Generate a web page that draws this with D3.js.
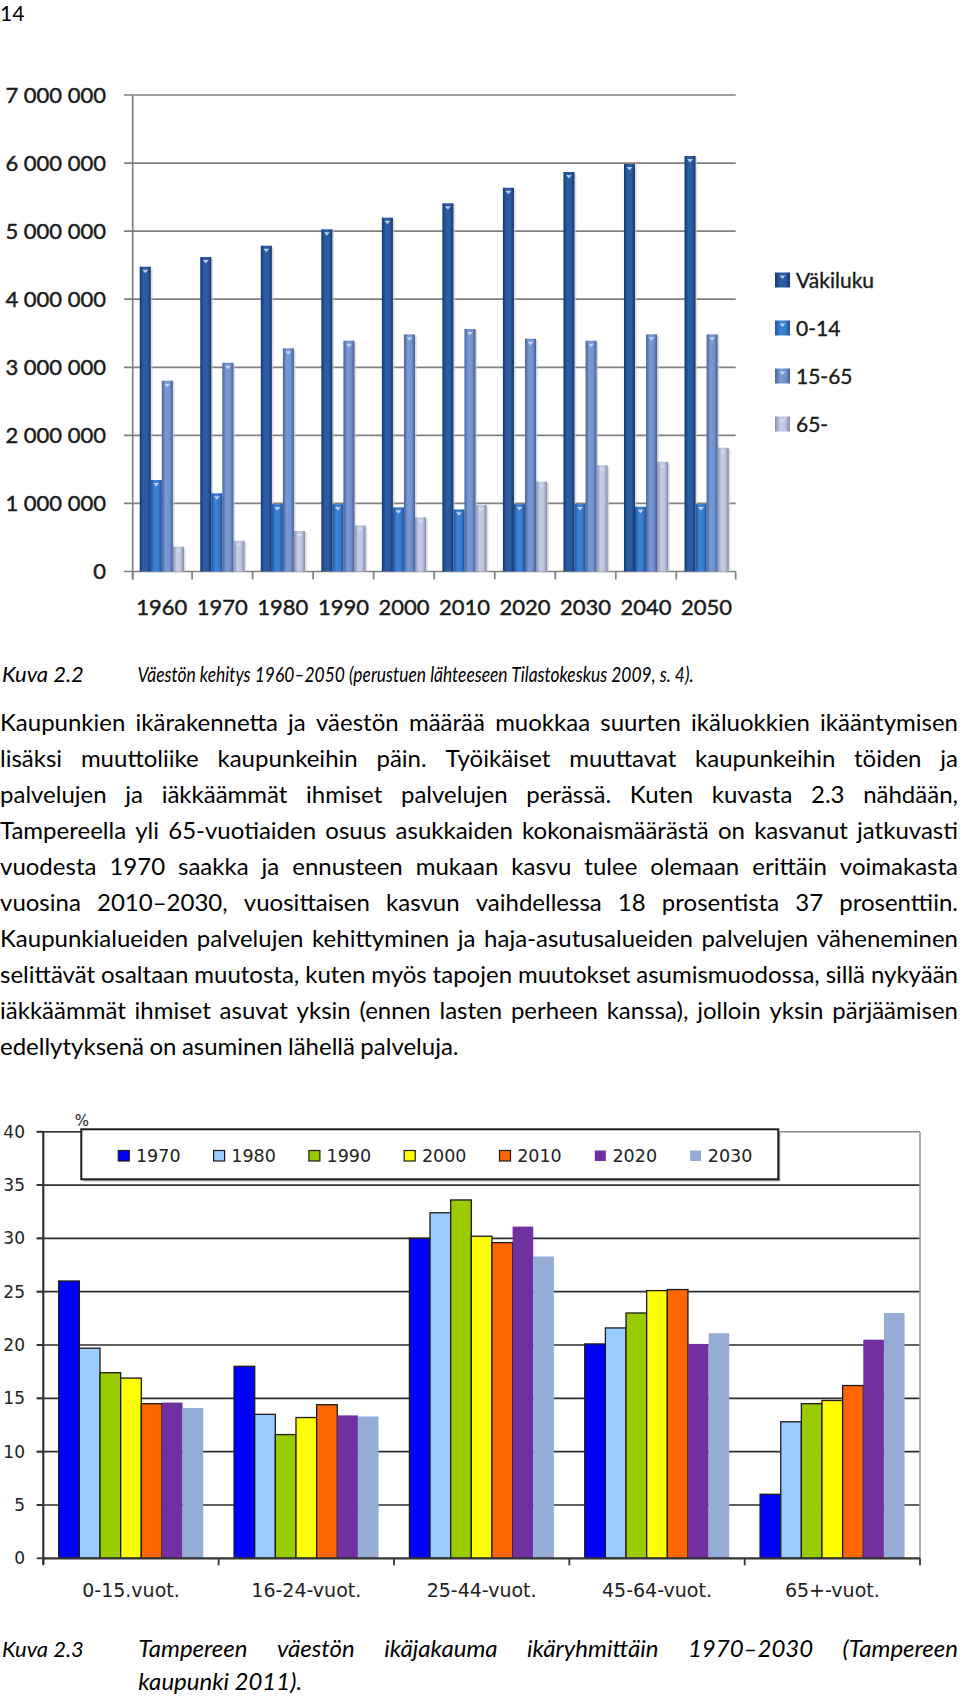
<!DOCTYPE html>
<html>
<head>
<meta charset="utf-8">
<script src="https://cdn.jsdelivr.net/npm/d3@7"></script>
<style>
  html, body { margin: 0; padding: 0; background: #fff; }
  svg { display: block; }
</style>
</head>
<body>
<script>
// ---------------- DATA ----------------
// Chart 1: Väestön kehitys 1960–2050
const years1 = ["1960","1970","1980","1990","2000","2010","2020","2030","2040","2050"];
const series1 = ["Väkiluku","0-14","15-65","65-"];
const vakiluku = [4478000,4620000,4786000,5027000,5198000,5409000,5638000,5869000,5987000,6104000];
const age0_14  = [1344000,1149000,990000,990000,943000,913000,990000,990000,952000,990000];
const age15_65 = [2803000,3067000,3279000,3391000,3484000,3562000,3420000,3390000,3484000,3484000];
const age65    = [364000,452000,595000,678000,796000,977000,1319000,1560000,1613000,1819000];
const yTicks1  = [0,1000000,2000000,3000000,4000000,5000000,6000000,7000000];

// Chart 2: Tampereen väestön ikäjakauma ikäryhmittäin 1970–2030 (%)
const ageGroups = ["0-15.vuot.","16-24-vuot.","25-44-vuot.","45-64-vuot.","65+-vuot."];
const years2 = ["1970","1980","1990","2000","2010","2020","2030"];
const share1970 = [26.0, 18.0, 30.0, 20.1, 6.0];
const share1980 = [19.7, 13.5, 32.4, 21.6, 12.8];
const share1990 = [17.4, 11.6, 33.6, 23.0, 14.5];
const share2000 = [16.9, 13.2, 30.2, 25.1, 14.8];
const share2010 = [14.5, 14.4, 29.6, 25.2, 16.2];
const share2020 = [14.6, 13.4, 31.1, 20.1, 20.5];
const share2030 = [14.1, 13.3, 28.3, 21.1, 23.0];
const yTicks2 = [0,5,10,15,20,25,30,35,40];

// Texts
const pageNumber = "14";
const caption22 = ["Kuva 2.2", "Väestön kehitys 1960–2050 (perustuen lähteeseen Tilastokeskus 2009, s. 4)."];
const paragraph = [
  "Kaupunkien ikärakennetta ja väestön määrää muokkaa suurten ikäluokkien ikääntymisen",
  "lisäksi muuttoliike kaupunkeihin päin. Työikäiset muuttavat kaupunkeihin töiden ja",
  "palvelujen ja iäkkäämmät ihmiset palvelujen perässä. Kuten kuvasta 2.3 nähdään,",
  "Tampereella yli 65-vuotiaiden osuus asukkaiden kokonaismäärästä on kasvanut jatkuvasti",
  "vuodesta 1970 saakka ja ennusteen mukaan kasvu tulee olemaan erittäin voimakasta",
  "vuosina 2010–2030, vuosittaisen kasvun vaihdellessa 18 prosentista 37 prosenttiin.",
  "Kaupunkialueiden palvelujen kehittyminen ja haja-asutusalueiden palvelujen väheneminen",
  "selittävät osaltaan muutosta, kuten myös tapojen muutokset asumismuodossa, sillä nykyään",
  "iäkkäämmät ihmiset asuvat yksin (ennen lasten perheen kanssa), jolloin yksin pärjäämisen",
  "edellytyksenä on asuminen lähellä palveluja."
];
const caption23 = ["Kuva 2.3", "Tampereen väestön ikäjakauma ikäryhmittäin 1970–2030 (Tampereen", "kaupunki 2011)."];

// ---------------- SETUP ----------------
const W = 960, H = 1697;
const svg = d3.select("body").append("svg").attr("width", W).attr("height", H)
  .attr("viewBox", `0 0 ${W} ${H}`);
svg.append("rect").attr("width", W).attr("height", H).attr("fill", "#fff");
const defs = svg.append("defs");

const bodyFont = "Lato, 'Open Sans', sans-serif";

// helper: justified line of text (word spacing distributed)
function justified(g, text, x0, x1, y, size, italic, justify) {
  const words = text.split(" ");
  const tmp = g.append("text").style("font-family", bodyFont).style("font-size", size + "px")
    .style("font-style", italic ? "italic" : "normal");
  const widths = words.map(w => { tmp.text(w); return tmp.node().getComputedTextLength(); });
  tmp.remove();
  const total = d3.sum(widths);
  let gap = size * 0.226;
  if (justify && words.length > 1) gap = Math.max(2, (x1 - x0 - total) / (words.length - 1));
  const t = g.append("text").attr("y", y).attr("fill", "#000")
    .style("font-family", bodyFont).style("font-size", size + "px")
    .style("font-style", italic ? "italic" : "normal");
  let x = x0;
  words.forEach((w, i) => {
    t.append("tspan").attr("x", x).text(i < words.length - 1 ? w + " " : w);
    x += widths[i] + gap;
  });
  return t;
}

// ---------------- PAGE TEXT ----------------
const textG = svg.append("g");
textG.append("text").attr("x", 0).attr("y", 21).text(pageNumber)
  .style("font-family", bodyFont).style("font-size", "21px").attr("fill", "#000");

textG.append("text").attr("x", 2).attr("y", 681.5).text(caption22[0])
  .style("font-family", bodyFont).style("font-size", "22px").style("font-style", "italic");
textG.append("text").attr("x", 137.5).attr("y", 681.5).text(caption22[1])
  .attr("textLength", 556).attr("lengthAdjust", "spacingAndGlyphs")
  .style("font-family", bodyFont).style("font-size", "21.5px").style("font-style", "italic");

paragraph.forEach((line, i) => {
  justified(textG, line, 0, 958, 730.5 + i * 36.1, 24, false, i < paragraph.length - 1);
});

textG.append("text").attr("x", 2).attr("y", 1656.5).text(caption23[0])
  .style("font-family", bodyFont).style("font-size", "22px").style("font-style", "italic");
justified(textG, caption23[1], 138.3, 958, 1656.5, 24, true, true);
justified(textG, caption23[2], 138.3, 958, 1689.5, 24, true, false);

// ---------------- CHART 1 ----------------
{
  const g = svg.append("g");
  const x0 = d3.scaleBand().domain(years1).range([132.7, 735.7]).paddingInner(0.27).paddingOuter(0.116);
  const x1 = d3.scaleBand().domain(series1).range([0, x0.bandwidth()]);
  const y = d3.scaleLinear().domain([0, 7000000]).range([571.5, 95]);
  const fmtLocale = d3.formatLocale({decimal: ",", thousands: " ", grouping: [3], currency: ["", ""]});
  const fmt = fmtLocale.format(",d");

  const grads = {
    "Väkiluku": ["#163a6e", "#2b5da5", "#2a5aa0", "#15366a"],
    "0-14":     ["#1c54a3", "#3f82d4", "#3a7bcc", "#1b4f9c"],
    "15-65":    ["#46659f", "#7b9ad3", "#7192cd", "#435f98"],
    "65-":      ["#8690b2", "#c6cde3", "#bcc4de", "#8089ab"]
  };
  series1.forEach((s, i) => {
    const lg = defs.append("linearGradient").attr("id", "g1s" + i)
      .attr("x1", "0").attr("x2", "1").attr("y1", "0").attr("y2", "0");
    const c = grads[s];
    lg.append("stop").attr("offset", "0").attr("stop-color", c[0]);
    lg.append("stop").attr("offset", "0.35").attr("stop-color", c[1]);
    lg.append("stop").attr("offset", "0.7").attr("stop-color", c[2]);
    lg.append("stop").attr("offset", "1").attr("stop-color", c[3]);
  });

  // gridlines
  g.append("g").selectAll("line").data(yTicks1).join("line")
    .attr("x1", 124).attr("x2", x0.range()[1])
    .attr("y1", d => y(d)).attr("y2", d => y(d))
    .attr("stroke", "#808080").attr("stroke-width", 1.7);
  // y axis line
  g.append("line").attr("x1", 132.7).attr("x2", 132.7).attr("y1", y(7000000)).attr("y2", y(0) + 8)
    .attr("stroke", "#808080").attr("stroke-width", 1.7);
  // x ticks
  const bounds = years1.map(d => x0(d) - x0.step() * x0.paddingInner() / 2);
  bounds[0] = x0.range()[0];
  bounds.push(x0.range()[1]);
  g.append("g").selectAll("line").data(bounds).join("line")
    .attr("x1", d => d).attr("x2", d => d).attr("y1", y(0)).attr("y2", y(0) + 8)
    .attr("stroke", "#808080").attr("stroke-width", 1.7);

  // y labels
  g.append("g").selectAll("text").data(yTicks1).join("text")
    .attr("x", 106).attr("y", d => y(d)).attr("dy", "0.36em").attr("text-anchor", "end")
    .style("font-family", bodyFont).style("font-size", "22px").attr("fill", "#1a1a1a")
    .attr("stroke", "#1a1a1a").attr("stroke-width", 0.45)
    .text(d => fmt(d));
  // x labels
  g.append("g").selectAll("text").data(years1).join("text")
    .attr("x", d => x0(d) + x0.bandwidth() / 2).attr("y", 606.7).attr("dy", "0.36em")
    .attr("text-anchor", "middle")
    .style("font-family", bodyFont).style("font-size", "22px").attr("fill", "#1a1a1a")
    .attr("stroke", "#1a1a1a").attr("stroke-width", 0.45)
    .text(d => d);

  const vals = [vakiluku, age0_14, age15_65, age65];
  const groups = g.append("g").selectAll("g").data(years1).join("g")
    .attr("transform", d => `translate(${x0(d)},0)`);
  // soft shadows
  series1.forEach((s, i) => {
    groups.append("rect")
      .attr("x", x1(s) + 1.8).attr("y", (d, j) => y(vals[i][j]) + 1.5)
      .attr("width", x1.bandwidth()).attr("height", (d, j) => y(0) - y(vals[i][j]) - 1.5)
      .attr("fill", "#c8c8c8").attr("opacity", 0.6);
  });
  series1.forEach((s, i) => {
    groups.append("rect")
      .attr("x", x1(s)).attr("y", (d, j) => y(vals[i][j]))
      .attr("width", x1.bandwidth()).attr("height", (d, j) => y(0) - y(vals[i][j]))
      .attr("fill", `url(#g1s${i})`);
    groups.append("path")
      .attr("d", (d, j) => {
        const cx = x1(s) + x1.bandwidth() / 2, t = y(vals[i][j]);
        return `M${cx - 3},${t + 3}L${cx + 3},${t + 3}L${cx},${t + 6.5}Z`;
      })
      .attr("fill", "#cfe0f7").attr("opacity", 0.85);
  });

  // legend
  const lg = g.append("g").selectAll("g").data(series1).join("g")
    .attr("transform", (d, i) => `translate(775,${280 + i * 48})`);
  lg.append("rect").attr("x", 0).attr("y", -7.5).attr("width", 15).attr("height", 15)
    .attr("fill", (d, i) => `url(#g1s${i})`);
  lg.append("path").attr("d", "M4.5,-4.5L10.5,-4.5L7.5,-1Z").attr("fill", "#cfe0f7").attr("opacity", 0.85);
  lg.append("text").attr("x", 21).attr("y", 0).attr("dy", "0.36em")
    .style("font-family", bodyFont).style("font-size", "21px").attr("fill", "#1a1a1a")
    .attr("stroke", "#1a1a1a").attr("stroke-width", 0.35)
    .text(d => d);
}

// ---------------- CHART 2 ----------------
{
  const g = svg.append("g");
  const x0 = d3.scaleBand().domain(ageGroups).range([43.3, 920]).paddingInner(0.176).paddingOuter(0.088);
  const x1 = d3.scaleBand().domain(years2).range([0, x0.bandwidth()]);
  const y = d3.scaleLinear().domain([0, 40]).range([1558.3, 1131.7]);
  const colors = ["#0000FF", "#99CCFF", "#99CC00", "#FFFF00", "#FF6600", "#7030A0", "#95ACD6"];
  const outlined = [true, true, true, true, true, false, false];
  const vals = [share1970, share1980, share1990, share2000, share2010, share2020, share2030];
  const sfont = "'DejaVu Sans', Verdana, sans-serif";

  // gridlines
  g.append("g").selectAll("line").data(yTicks2.filter(d => d > 0 && d < 40)).join("line")
    .attr("x1", 36.7).attr("x2", 920).attr("y1", d => y(d)).attr("y2", d => y(d))
    .attr("stroke", "#2e2e2e").attr("stroke-width", 1.7);
  // top gridline and right frame
  g.append("line").attr("x1", 36.7).attr("x2", 920).attr("y1", y(40)).attr("y2", y(40))
    .attr("stroke", "#8a8a8a").attr("stroke-width", 1.6);
  g.append("line").attr("x1", 36.7).attr("x2", 82).attr("y1", y(40)).attr("y2", y(40))
    .attr("stroke", "#333").attr("stroke-width", 1.6);
  g.append("line").attr("x1", 920).attr("x2", 920).attr("y1", y(40)).attr("y2", y(0))
    .attr("stroke", "#9a9a9a").attr("stroke-width", 1.6);

  // bars
  const groups = g.append("g").selectAll("g").data(ageGroups).join("g")
    .attr("transform", d => `translate(${x0(d)},0)`);
  years2.forEach((yr, i) => {
    groups.append("rect")
      .attr("x", x1(yr)).attr("y", (d, j) => y(vals[i][j]))
      .attr("width", x1.bandwidth()).attr("height", (d, j) => y(0) - y(vals[i][j]))
      .attr("fill", colors[i])
      .attr("stroke", outlined[i] ? "#1a1a1a" : "none").attr("stroke-width", 1.3);
  });

  // axes
  g.append("line").attr("x1", 43.3).attr("x2", 43.3).attr("y1", y(40)).attr("y2", y(0) + 6)
    .attr("stroke", "#333").attr("stroke-width", 2.2);
  g.append("line").attr("x1", 43.3).attr("x2", 920).attr("y1", y(0)).attr("y2", y(0))
    .attr("stroke", "#333").attr("stroke-width", 2.2);
  g.append("g").selectAll("line").data(yTicks2).join("line")
    .attr("x1", 36.7).attr("x2", 43.3).attr("y1", d => y(d)).attr("y2", d => y(d))
    .attr("stroke", "#333").attr("stroke-width", 1.8);
  const bounds = ageGroups.map(d => x0(d) - x0.step() * x0.paddingInner() / 2);
  bounds[0] = x0.range()[0];
  bounds.push(x0.range()[1]);
  g.append("g").selectAll("line").data(bounds).join("line")
    .attr("x1", d => d).attr("x2", d => d).attr("y1", y(0)).attr("y2", y(0) + 7)
    .attr("stroke", "#333").attr("stroke-width", 1.8);

  // y labels
  g.append("g").selectAll("text").data(yTicks2).join("text")
    .attr("x", 25).attr("y", d => y(d)).attr("dy", "0.36em").attr("text-anchor", "end")
    .style("font-family", sfont).style("font-size", "17px").attr("fill", "#222")
    .text(d => d);
  // x labels
  g.append("g").selectAll("text").data(ageGroups).join("text")
    .attr("x", d => x0(d) + x0.bandwidth() / 2).attr("y", 1590).attr("dy", "0.36em")
    .attr("text-anchor", "middle")
    .style("font-family", sfont).style("font-size", "19px").attr("fill", "#222")
    .text(d => d);
  // % unit
  g.append("text").attr("x", 82).attr("y", 1121).attr("dy", "0.36em").attr("text-anchor", "middle")
    .style("font-family", sfont).style("font-size", "15px").attr("fill", "#222").text("%");

  // legend
  g.append("rect").attr("x", 83.5).attr("y", 1131.5).attr("width", 697).attr("height", 50)
    .attr("fill", "#b5b5b5");
  g.append("rect").attr("x", 81.3).attr("y", 1129.3).attr("width", 697).attr("height", 50)
    .attr("fill", "#fff").attr("stroke", "#1e1e1e").attr("stroke-width", 2);
  const lgx = d3.scaleBand().domain(years2).range([118.3, 118.3 + 95.3 * 7]);
  const li = g.append("g").selectAll("g").data(years2).join("g")
    .attr("transform", d => `translate(${lgx(d)},1156)`);
  li.append("rect").attr("x", 0).attr("y", -5.5).attr("width", 11).attr("height", 10.5)
    .attr("fill", (d, i) => colors[i])
    .attr("stroke", (d, i) => outlined[i] ? "#1a1a1a" : "none").attr("stroke-width", 1.2);
  li.append("text").attr("x", 17.7).attr("y", 0).attr("dy", "0.36em")
    .style("font-family", sfont).style("font-size", "17.5px").attr("fill", "#222")
    .text(d => d);
}
</script>
</body>
</html>
